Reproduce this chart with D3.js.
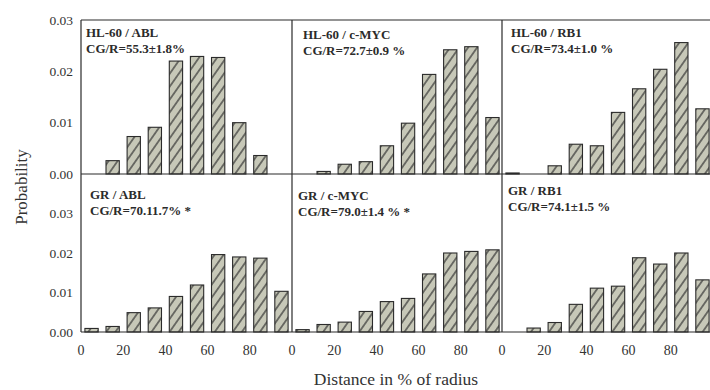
<!DOCTYPE html>
<html>
<head>
<meta charset="utf-8">
<script src="https://cdn.jsdelivr.net/npm/d3@7"></script>
<style>
  html, body { margin: 0; padding: 0; background: #fff; }
  svg { display: block; font-family: "Liberation Serif", "Times New Roman", serif; }
</style>
</head>
<body>
<div id="chart"></div>
<script>
// bin centres (% of radius) and tick labels
const bins = [5, 15, 25, 35, 45, 55, 65, 75, 85, 95];
const xTicks = [0, 20, 40, 60, 80];
const yTicksTop = [0, 0.01, 0.02, 0.03];
const yTicksBottom = [0, 0.01, 0.02, 0.03];

// probabilities (0 = no bar)
const hl60Abl = [0, 0.0026, 0.0073, 0.0091, 0.0220, 0.0229, 0.0227, 0.0100, 0.0036, 0];
const hl60Myc = [0, 0.0005, 0.0019, 0.0024, 0.0055, 0.0099, 0.0194, 0.0242, 0.0248, 0.0110];
const hl60Rb1 = [0.0002, 0, 0.0016, 0.0058, 0.0055, 0.0120, 0.0166, 0.0204, 0.0256, 0.0127];
const grAbl = [0.0009, 0.0014, 0.0049, 0.0061, 0.0090, 0.0119, 0.0196, 0.0190, 0.0187, 0.0103];
const grMyc = [0.0006, 0.0019, 0.0025, 0.0052, 0.0077, 0.0085, 0.0147, 0.0200, 0.0204, 0.0208];
const grRb1 = [0, 0.0010, 0.0024, 0.0070, 0.0111, 0.0116, 0.0188, 0.0172, 0.0200, 0.0132];

const titles = ["HL-60 / ABL", "HL-60 / c-MYC", "HL-60 / RB1", "GR / ABL", "GR / c-MYC", "GR / RB1"];
const cgr = ["CG/R=55.3\u00b11.8%", "CG/R=72.7\u00b10.9 %", "CG/R=73.4\u00b11.0 %",
             "CG/R=70.11.7% *", "CG/R=79.0\u00b11.4 % *", "CG/R=74.1\u00b11.5 %"];
const series = [hl60Abl, hl60Myc, hl60Rb1, grAbl, grMyc, grRb1];

// layout
const W = 710, H = 390;
const colLeft = [81, 292, 502];
const colW = 211;
const rowTop = 20, rowMid = 174, rowBot = 332;
const labelOff = [[5, 17], [11, 19], [9, 17], [9, 25], [6, 26], [6, 21]]; // label nudges per panel
const ink = "#2b2b2b";

const svg = d3.select("#chart").append("svg")
  .attr("width", W).attr("height", H)
  .attr("viewBox", [0, 0, W, H]);

svg.append("rect").attr("width", W).attr("height", H).attr("fill", "#fff");

// hatch pattern, "/" lines a bit steeper than 45deg
const defs = svg.append("defs");
const pat = defs.append("pattern")
  .attr("id", "hatch")
  .attr("patternUnits", "userSpaceOnUse")
  .attr("width", 7.4).attr("height", 7.4)
  .attr("patternTransform", "rotate(35)");
pat.append("rect").attr("width", 7.4).attr("height", 7.4).attr("fill", "#c7c8b8");
pat.append("line")
  .attr("x1", 3.7).attr("x2", 3.7).attr("y1", 0).attr("y2", 7.4)
  .attr("stroke", "#333").attr("stroke-width", 1.2);

const yTop = d3.scaleLinear().domain([0, 0.03]).range([rowMid, rowTop]);
const yBot = d3.scaleLinear().domain([0, 0.04]).range([rowBot, rowMid]);
const xs = colLeft.map(x0 => d3.scaleLinear().domain([0, 100]).range([x0, x0 + colW]));

const barW = xs[0](6.3) - xs[0](0);

series.forEach((vals, i) => {
  const col = i % 3, row = Math.floor(i / 3);
  const x = xs[col];
  const y = row === 0 ? yTop : yBot;
  const g = svg.append("g");

  g.selectAll("rect")
    .data(bins.map((b, k) => ({ b, v: vals[k] })).filter(d => d.v > 0))
    .join("rect")
      .attr("x", d => x(d.b) - barW / 2)
      .attr("y", d => y(d.v))
      .attr("width", barW)
      .attr("height", d => Math.max(1, y(0) - y(d.v)))
      .attr("fill", "url(#hatch)")
      .attr("stroke", ink)
      .attr("stroke-width", 1.1);

  const [dx, dy] = labelOff[i];
  const x0 = x.range()[0];
  const t0 = y.range()[1];
  g.append("text")
    .attr("x", x0 + dx).attr("y", t0 + dy)
    .attr("font-size", 13).attr("font-weight", "bold").attr("fill", ink)
    .text(titles[i]);
  g.append("text")
    .attr("x", x0 + dx).attr("y", t0 + dy + 16)
    .attr("font-size", 13).attr("font-weight", "bold").attr("fill", ink)
    .text(cgr[i]);
});

// frame lines
const frame = svg.append("g").attr("stroke", ink).attr("stroke-width", 1.2);
[rowTop, rowMid, rowBot].forEach(yy => {
  frame.append("line").attr("x1", colLeft[0]).attr("x2", xs[2](100)).attr("y1", yy).attr("y2", yy);
});
colLeft.concat([xs[2](100)]).forEach(xx => {
  frame.append("line").attr("x1", xx).attr("x2", xx).attr("y1", rowTop).attr("y2", rowBot);
});

// y tick labels
const tickFill = "#333";
function yLabels(scale, ticks) {
  svg.append("g").selectAll("text")
    .data(ticks)
    .join("text")
      .attr("x", 73)
      .attr("y", d => scale(d))
      .attr("dy", "0.35em")
      .attr("text-anchor", "end")
      .attr("font-size", 13.5)
      .attr("fill", tickFill)
      .text(d3.format(".2f"));
}
yLabels(yTop, yTicksTop);
yLabels(yBot, yTicksBottom);

// x tick labels for each column
xs.forEach(x => {
  svg.append("g").selectAll("text")
    .data(xTicks)
    .join("text")
      .attr("x", d => x(d))
      .attr("y", 355)
      .attr("text-anchor", "middle")
      .attr("font-size", 14)
      .attr("fill", tickFill)
      .text(d => d);
});

// axis titles
svg.append("text")
  .attr("transform", "translate(27,187) rotate(-90)")
  .attr("text-anchor", "middle")
  .attr("font-size", 17)
  .attr("fill", tickFill)
  .text("Probability");

svg.append("text")
  .attr("x", 396).attr("y", 385)
  .attr("text-anchor", "middle")
  .attr("font-size", 17.5)
  .attr("fill", tickFill)
  .text("Distance in % of radius");
</script>
</body>
</html>
